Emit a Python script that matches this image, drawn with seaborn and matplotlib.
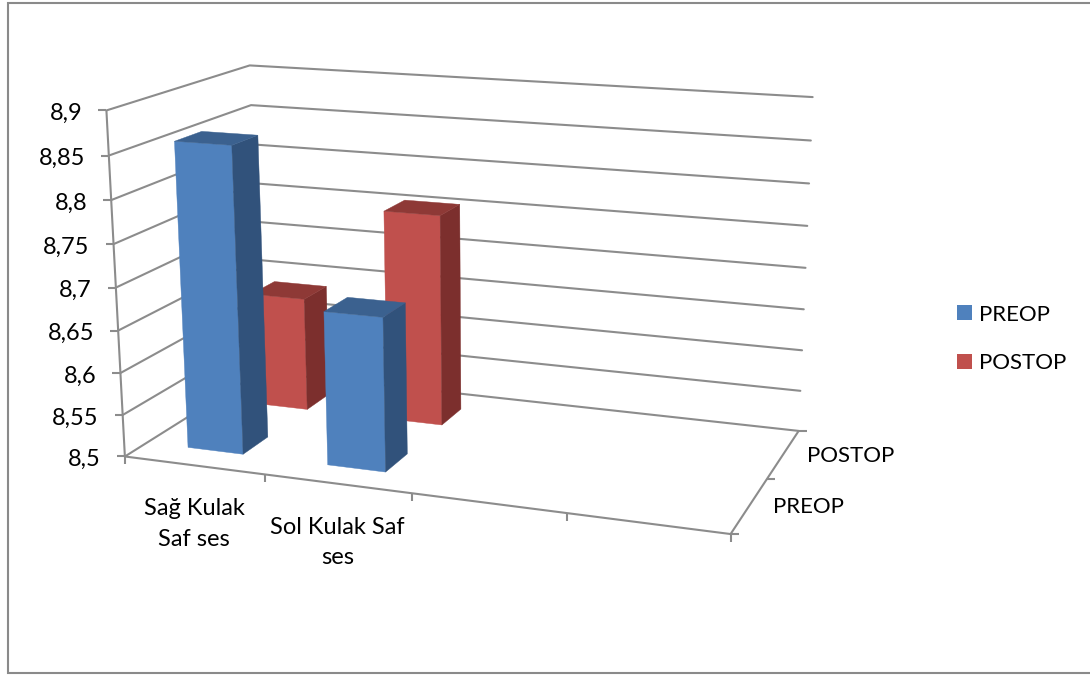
import numpy as np
import pandas as pd
import matplotlib
matplotlib.use("Agg")
import matplotlib.pyplot as plt
from matplotlib.patches import Patch, Polygon
import seaborn as sns

# Chart values
categories = ["Sağ Kulak\nSaf ses", "Sol Kulak Saf\nses", "", ""]
series_names = ["PREOP", "POSTOP"]
preop = [8.86, 8.68]
postop = [8.64, 8.757]
levels = [8.5, 8.55, 8.6, 8.65, 8.7, 8.75, 8.8, 8.85, 8.9]

# Face colours of each series: front, side, top
face_colours = {
    "PREOP": ("#4F81BD", "#31527B", "#3B618F"),
    "POSTOP": ("#C0504D", "#7C2F2D", "#8E3936"),
}
GRID = "#8C8C8C"
FONT = "Lato"
FONT_SIZE = 17
CAPS_SIZE = 16

sns.set_theme(style="white")
plt.rcParams["font.family"] = [FONT, "DejaVu Sans"]

# Camera: box corners (across, depth, value share) and where they land on the canvas
box_points = np.array([
    (0, 0, 0), (0, 0, 1), (0, 1, 1), (0, 1, 0),
    (1, 1, 1), (1, 1, 0), (1, 0, 0),
], float)
canvas_points = np.array([
    (123, 456), (108, 111), (248, 65), (262, 372),
    (813, 97), (798, 431), (731, 534),
], float)


def fit_camera(box, canvas):
    rows, rhs = [], []
    for (a, b, c), (x, y) in zip(box, canvas):
        rows.append([a, b, c, 1, 0, 0, 0, 0, -x * a, -x * b, -x * c])
        rows.append([0, 0, 0, 0, a, b, c, 1, -y * a, -y * b, -y * c])
        rhs += [x, y]
    p = np.linalg.lstsq(np.array(rows), np.array(rhs), rcond=None)[0]
    return np.append(p, 1).reshape(3, 4)


camera = fit_camera(box_points, canvas_points)
n_slots = len(categories)
n_rows = len(series_names)
z_min, z_max = levels[0], levels[-1]


def project(slot, row, value):
    """Slot and row positions are in category units, value in axis units."""
    h = camera @ np.array([slot / n_slots, row / n_rows, (value - z_min) / (z_max - z_min), 1.0])
    return h[:2] / h[2]


fig = plt.figure(figsize=(10.9, 6.75), dpi=100)
ax = fig.add_axes([0, 0, 1, 1])

# Wall grid: one polyline per value level
grid_rows = []
for z in levels:
    for s, r in [(0, 0), (0, n_rows), (n_slots, n_rows)]:
        px, py = project(s, r, z)
        grid_rows.append({"level": z, "px": px, "py": py})
grid_df = pd.DataFrame(grid_rows)
sns.lineplot(data=grid_df, x="px", y="py", units="level", estimator=None, sort=False,
             color=GRID, linewidth=1.5, legend=False, ax=ax, zorder=1)


def axis_line(points):
    pts = np.array(points)
    ax.plot(pts[:, 0], pts[:, 1], color=GRID, lw=1.5, zorder=1, solid_capstyle="butt")


# Value axis, floor edges and their ticks
axis_line([project(0, 0, z_min), project(0, 0, z_max)])
axis_line([project(0, 0, z_min), project(n_slots, 0, z_min), project(n_slots, n_rows, z_min)])
for z in levels:
    x, y = project(0, 0, z)
    axis_line([(x - 8, y), (x, y)])
    ax.text(x - 24, y + 3, f"{z:g}".replace(".", ","), ha="right", va="center", fontsize=FONT_SIZE, color="black")
for s in range(n_slots + 1):
    x, y = project(s, 0, z_min)
    axis_line([(x, y), (x, y + 8)])
for r in range(n_rows + 1):
    x, y = project(n_slots, r, z_min)
    axis_line([(x, y), (x + 8, y)])

# Category and series labels along the floor
for s, label in enumerate(categories):
    if label:
        x, y = project(s + 0.5, 0, z_min)
        ax.text(x, y + 33, label, ha="center", va="top", fontsize=FONT_SIZE, color="black", linespacing=1.55)
for r, name in enumerate(series_names):
    x, y = project(n_slots, r + 0.5, z_min)
    ax.text(x + 24, y + 2, name, ha="left", va="center", fontsize=CAPS_SIZE, color="black")


def draw_bar(slot, row, value, colours, z):
    s0, s1 = slot + 0.3, slot + 0.7
    r0, r1 = row + 0.3, row + 0.67
    front = [project(s0, r0, z_min), project(s1, r0, z_min), project(s1, r0, value), project(s0, r0, value)]
    side = [project(s1, r0, z_min), project(s1, r1, z_min), project(s1, r1, value), project(s1, r0, value)]
    top = [project(s0, r0, value), project(s1, r0, value), project(s1, r1, value), project(s0, r1, value)]
    for verts, colour in zip((front, side, top), colours):
        ax.add_patch(Polygon(verts, closed=True, facecolor=colour, edgecolor=colour, lw=0.3, zorder=z))


# Rear row first so the front row covers it
for slot, value in enumerate(postop):
    draw_bar(slot, 1, value, face_colours["POSTOP"], 2 + 0.1 * slot)
for slot, value in enumerate(preop):
    draw_bar(slot, 0, value, face_colours["PREOP"], 3 + 0.1 * slot)

# Chart area border, open on the right
ax.plot([1090, 8, 8, 1090], [3, 3, 673, 673], color="#8A8A8A", lw=1.5, zorder=1, solid_joinstyle="miter")

handles = [Patch(facecolor=face_colours[n][0], edgecolor="none", label=n) for n in series_names]
ax.legend(handles=handles, loc="center left", bbox_to_anchor=(957 / 1090, 1 - 339 / 675), frameon=False,
          fontsize=CAPS_SIZE, handlelength=0.68, handleheight=0.68, handletextpad=0.3,
          labelspacing=1.3, borderpad=0, borderaxespad=0, labelcolor="black")

ax.set_xlim(0, 1090)
ax.set_ylim(675, 0)
ax.set_xlabel("")
ax.set_ylabel("")
ax.axis("off")
fig.savefig("out.png", dpi=100, facecolor="white")
